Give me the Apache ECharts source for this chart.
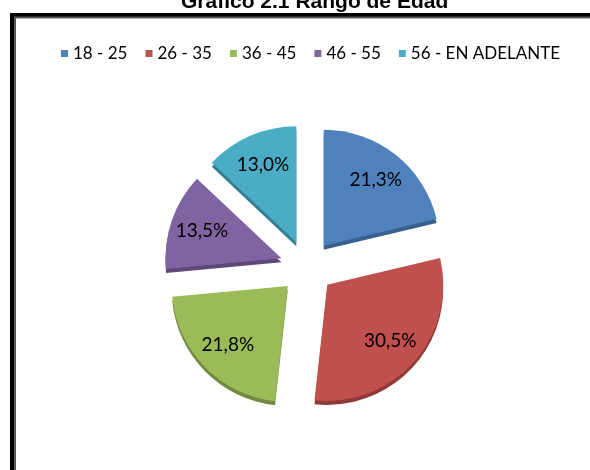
<!DOCTYPE html>
<html>
<head>
<meta charset="utf-8">
<script src="https://cdn.jsdelivr.net/npm/echarts@6/dist/echarts.min.js"></script>
<style>
  html, body { margin: 0; padding: 0; background: #fff; }
  #chart { width: 590px; height: 470px; }
</style>
</head>
<body>
<div id="chart"></div>
<script>
// datos del grafico
var categorias = ['18 - 25', '26 - 35', '36 - 45', '46 - 55', '56 - EN ADELANTE'];
var porcentajes = [21.3, 30.5, 21.8, 13.5, 13.0];
var colores = ['#4F81BD', '#C0504D', '#9BBB59', '#8064A2', '#4BACC6'];
var bordes = ['#38608e', '#8f3a38', '#72893f', '#5d4879', '#347f93'];

var fuente = "Lato, 'Open Sans', sans-serif";

function etiqueta(p) {
    return p.value.toFixed(1).replace('.', ',') + '%';
}

var chart = echarts.init(document.getElementById('chart'), null, { renderer: 'canvas' });

var datosPie = categorias.map(function (c, i) {
    return {
        name: c,
        value: porcentajes[i],
        selected: true,
        itemStyle: {
            color: colores[i],
            shadowColor: bordes[i],
            shadowOffsetY: 4,
            shadowBlur: 0
        }
    };
});

var datosEtiq = categorias.map(function (c, i) {
    return { name: c, value: porcentajes[i], selected: true };
});

var option = {
    animation: false,
    title: {
        text: 'Gráfico 2.1 Rango de Edad',
        left: 176,
        top: -13,
        textStyle: {
            fontFamily: "'Liberation Sans', Arial, sans-serif",
            fontWeight: 'bold',
            fontSize: 21,
            color: '#000'
        }
    },
    graphic: [
        {
            type: 'rect',
            shape: { x: 12, y: 15, width: 800, height: 800 },
            style: { fill: 'none', stroke: '#000', lineWidth: 4 },
            silent: true
        },
        {
            type: 'rect',
            shape: { x: 15, y: 17.5, width: 800, height: 800 },
            style: { fill: 'none', stroke: '#555', lineWidth: 2 },
            silent: true
        }
    ],
    color: colores,
    legend: {
        data: categorias,
        left: 56,
        top: 40,
        width: 540,
        icon: 'rect',
        itemWidth: 7,
        itemHeight: 7,
        itemGap: 18,
        textStyle: {
            fontFamily: fuente,
            fontSize: 17,
            color: '#000'
        }
    },
    series: [
        {
            name: 'Rango de Edad',
            type: 'pie',
            center: [307, 267],
            radius: [0, 116],
            startAngle: 90,
            clockwise: true,
            selectedMode: 'multiple',
            selectedOffset: 27,
            emphasis: { disabled: true },
            label: { show: false },
            labelLine: { show: false },
            data: datosPie
        },
        {
            name: 'etiquetas',
            type: 'pie',
            center: [307, 267],
            radius: [46, 116],
            startAngle: 90,
            clockwise: true,
            selectedMode: 'multiple',
            selectedOffset: 27,
            silent: true,
            emphasis: { disabled: true },
            itemStyle: { color: 'rgba(0,0,0,0)' },
            label: {
                show: true,
                position: 'inside',
                formatter: etiqueta,
                fontFamily: fuente,
                fontSize: 19,
                color: '#000'
            },
            labelLine: { show: false },
            data: datosEtiq
        }
    ]
};

chart.setOption(option);
</script>
</body>
</html>
